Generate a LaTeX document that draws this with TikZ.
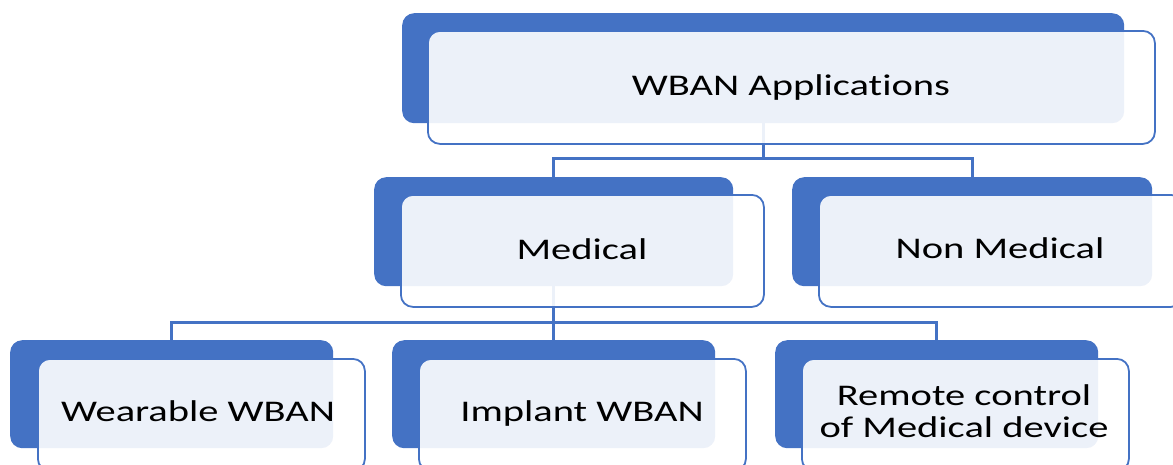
\documentclass[tikz,border=0pt]{standalone}
\usepackage{fontspec}
\setmainfont[FakeStretch=1.35, RawFeature={-liga}]{Carlito}
\definecolor{wblue}{HTML}{4472C4}
\begin{document}
\begin{tikzpicture}[x=1pt, y=-1pt,
  backbox/.style={rectangle, fill=wblue, rounded corners=12pt, inner sep=0pt, anchor=north west},
  frontbox/.style={rectangle, fill=white, fill opacity=0.9, draw=wblue, line width=1.8pt, rounded corners=12pt, inner sep=0pt, anchor=north west},
  link/.style={draw=wblue, line width=3pt},
  lbl/.style={text=black, font=\fontsize{30}{32}\selectfont, inner sep=0pt}]
\useasboundingbox (0,0) rectangle (1173,464);
\clip (0,0) rectangle (1173,464);

% shadow blocks behind each card
\node[backbox, minimum width=722pt, minimum height=110pt] (topB) at (402,13) {};
\node[backbox, minimum width=359pt, minimum height=109pt] (medB) at (374,177) {};
\node[backbox, minimum width=360pt, minimum height=109pt] (nonB) at (792,177) {};
\node[backbox, minimum width=323pt, minimum height=108pt] (wearB) at (10,340) {};
\node[backbox, minimum width=323pt, minimum height=108pt] (implB) at (392,340) {};
\node[backbox, minimum width=323pt, minimum height=108pt] (remB) at (775,340) {};

% tree connectors
\draw[link] (topB.south) -- (topB.south |- 0,158) -| (medB.north);
\draw[link] (topB.south |- 0,158) -| (nonB.north);
\draw[link] (medB.south) -- (medB.south |- 0,322) -| (wearB.north);
\draw[link] (medB.south |- 0,322) -- (implB.north);
\draw[link] (medB.south |- 0,322) -| (remB.north);

% translucent front cards
\node[frontbox, minimum width=727pt, minimum height=113pt] (topF) at (427,30) {};
\node[frontbox, minimum width=363pt, minimum height=112pt] (medF) at (400,194) {};
\node[frontbox, minimum width=364pt, minimum height=112pt] (nonF) at (818,194) {};
\node[frontbox, minimum width=327pt, minimum height=112pt] (wearF) at (37,358) {};
\node[frontbox, minimum width=327pt, minimum height=112pt] (implF) at (418,358) {};
\node[frontbox, minimum width=327pt, minimum height=112pt] (remF) at (801,358) {};

% labels
\node[lbl, anchor=base] (topT) at (791,95) {WBAN Applications};
\node[lbl, anchor=base] (medT) at (582,259) {Medical};
\node[lbl, anchor=base] (nonT) at (1000,258) {Non Medical};
\node[lbl, anchor=base] (wearT) at (198,421) {Wearable WBAN};
\node[lbl, anchor=base] (implT) at (582,421) {Implant WBAN};
\node[lbl, align=center] (remT) at (964,411) {Remote control\\of Medical device};
\end{tikzpicture}
\end{document}
